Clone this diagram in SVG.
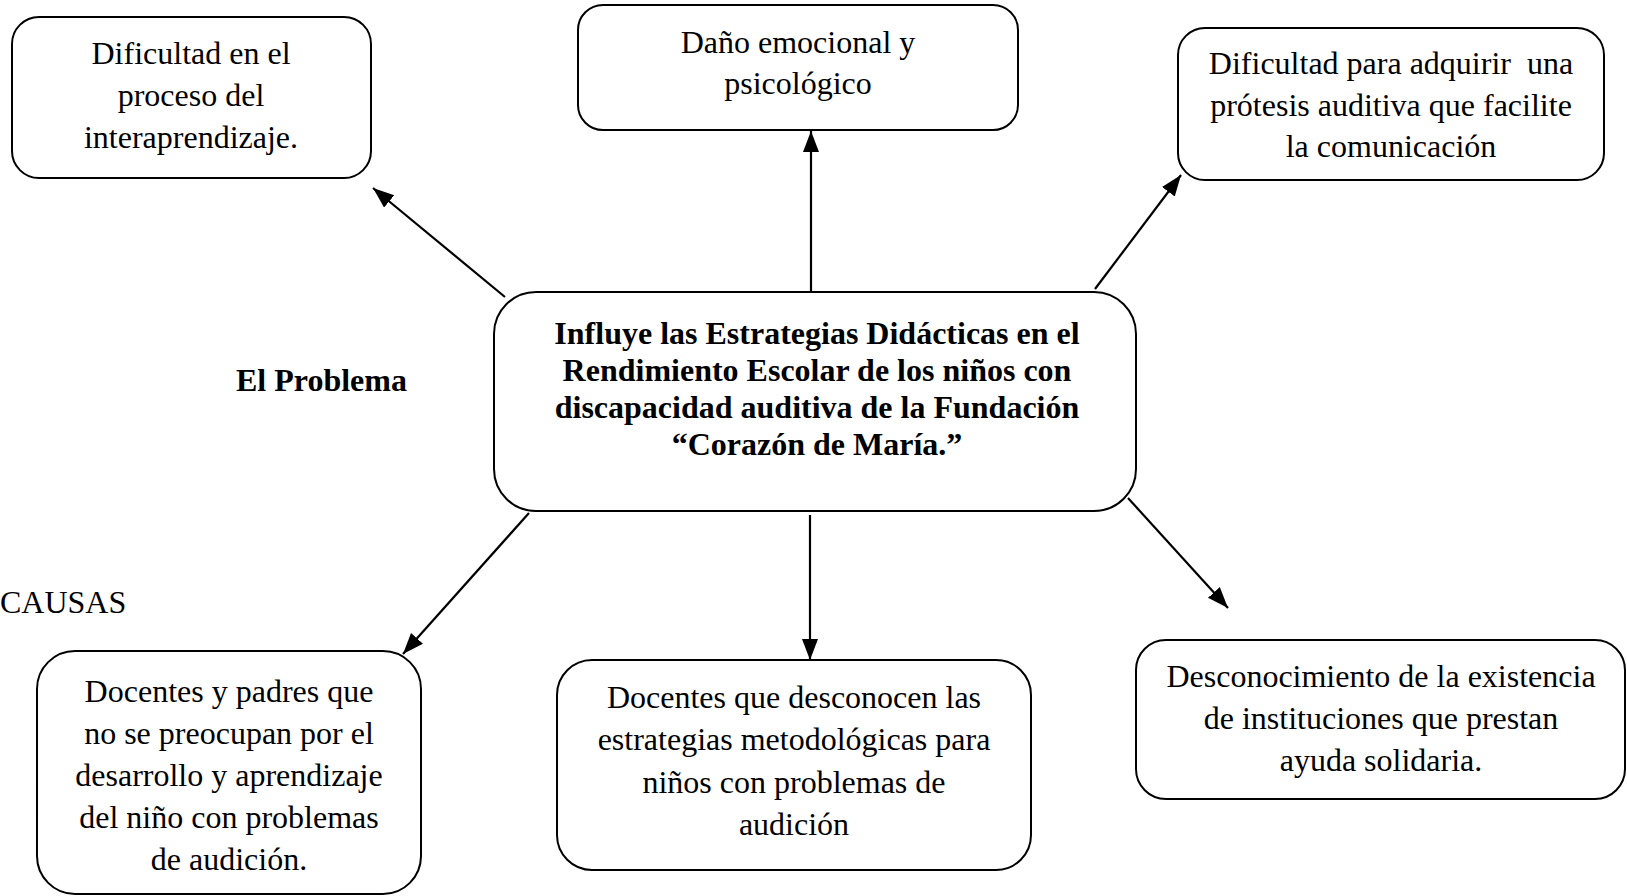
<svg xmlns="http://www.w3.org/2000/svg" width="1627" height="896" viewBox="0 0 1627 896">
<style>
.box{fill:#fff;stroke:#000;stroke-width:2}
.t{font-family:"Liberation Serif","Times New Roman",serif;font-size:32px;fill:#000;text-anchor:middle}
.b{font-weight:bold}
.l{text-anchor:start}
.c{stroke:#000;stroke-width:2.2;fill:none;marker-end:url(#ah)}
</style>
<defs>
<marker id="ah" markerUnits="userSpaceOnUse" markerWidth="24" markerHeight="18" refX="21" refY="8" orient="auto">
<path d="M0,0 L21,8 L0,16 z" fill="#000"/>
</marker>
</defs>
<rect width="1627" height="896" fill="#fff"/>
<g id="connectors">
<line class="c" x1="505" y1="297" x2="373" y2="188"/>
<line class="c" x1="811" y1="292" x2="811" y2="131"/>
<line class="c" x1="1095" y1="289" x2="1181" y2="175"/>
<line class="c" x1="529" y1="513" x2="403" y2="654"/>
<line class="c" x1="810" y1="515" x2="810" y2="660"/>
<line class="c" x1="1128" y1="498" x2="1228" y2="608"/>
</g>
<g id="n-center">
<rect class="box" x="494" y="292" width="642" height="219" rx="42"/>
<text class="t b" x="817" y="344">Influye las Estrategias Didácticas en el</text>
<text class="t b" x="817" y="381">Rendimiento Escolar de los niños con</text>
<text class="t b" x="817" y="418">discapacidad auditiva de la Fundación</text>
<text class="t b" x="817" y="455">“Corazón de María.”</text>
</g>
<g id="n-effect1">
<rect class="box" x="12" y="17" width="359" height="161" rx="27"/>
<text class="t" x="191" y="64">Dificultad en el</text>
<text class="t" x="191" y="106">proceso del</text>
<text class="t" x="191" y="148">interaprendizaje.</text>
</g>
<g id="n-effect2">
<rect class="box" x="578" y="5" width="440" height="125" rx="25"/>
<text class="t" x="798" y="53">Daño emocional y</text>
<text class="t" x="798" y="94">psicológico</text>
</g>
<g id="n-effect3">
<rect class="box" x="1178" y="28" width="426" height="152" rx="27"/>
<text class="t" x="1391" y="74" xml:space="preserve">Dificultad para adquirir  una</text>
<text class="t" x="1391" y="116">prótesis auditiva que facilite</text>
<text class="t" x="1391" y="157">la comunicación</text>
</g>
<g id="n-problema">
<text class="t b l" x="236" y="391">El Problema</text>
</g>
<g id="n-causas">
<text class="t l" x="0" y="613">CAUSAS</text>
</g>
<g id="n-cause1">
<rect class="box" x="37" y="651" width="384" height="243" rx="38"/>
<text class="t" x="229" y="702">Docentes y padres que</text>
<text class="t" x="229" y="744">no se preocupan por el</text>
<text class="t" x="229" y="786">desarrollo y aprendizaje</text>
<text class="t" x="229" y="828">del niño con problemas</text>
<text class="t" x="229" y="870">de audición.</text>
</g>
<g id="n-cause2">
<rect class="box" x="557" y="660" width="474" height="210" rx="35"/>
<text class="t" x="794" y="708">Docentes que desconocen las</text>
<text class="t" x="794" y="750">estrategias metodológicas para</text>
<text class="t" x="794" y="793">niños con problemas de</text>
<text class="t" x="794" y="835">audición</text>
</g>
<g id="n-cause3">
<rect class="box" x="1136" y="640" width="489" height="159" rx="30"/>
<text class="t" x="1381" y="687">Desconocimiento de la existencia</text>
<text class="t" x="1381" y="729">de instituciones que prestan</text>
<text class="t" x="1381" y="771">ayuda solidaria.</text>
</g>
</svg>
